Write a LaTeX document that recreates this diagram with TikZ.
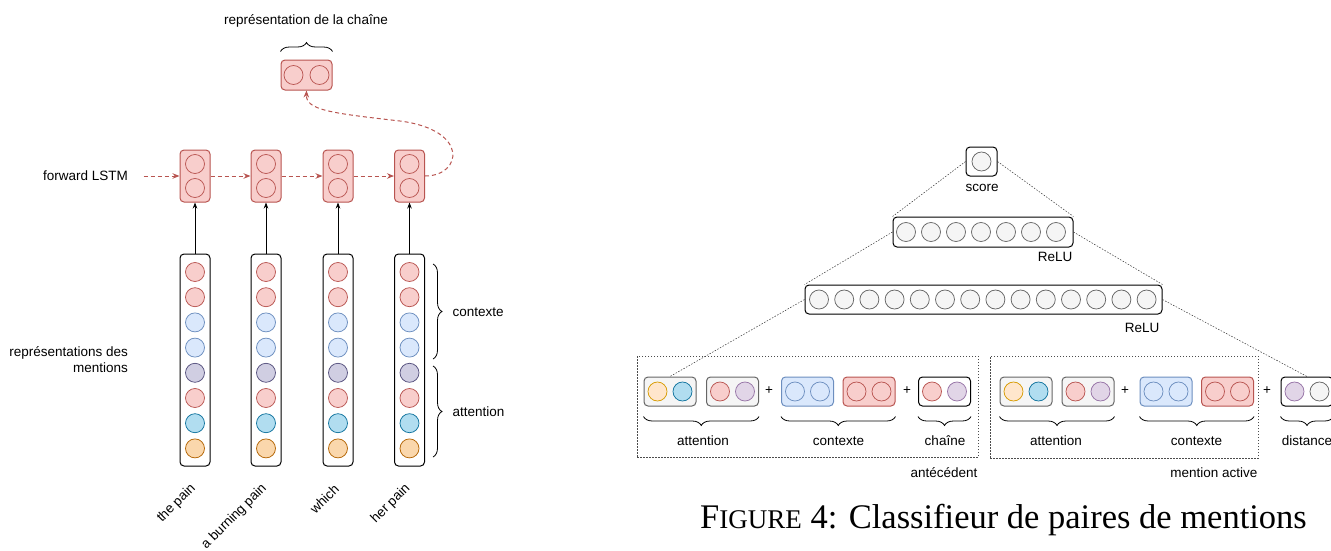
\documentclass[tikz,border=0pt]{standalone}
\usepackage{fontspec}
\setmainfont{Liberation Sans}
\newfontfamily\capfont{Liberation Serif}
\usetikzlibrary{positioning,arrows.meta,decorations.pathreplacing}

\definecolor{redf}{HTML}{F8CECC}
\definecolor{redd}{HTML}{B85450}
\definecolor{bluef}{HTML}{DAE8FC}
\definecolor{blued}{HTML}{6C8EBF}
\definecolor{cyanf}{HTML}{B1DDF0}
\definecolor{cyand}{HTML}{10739E}
\definecolor{orangef}{HTML}{FFE6CC}
\definecolor{oranged}{HTML}{D79B00}
\definecolor{dorangef}{HTML}{FAD7AC}
\definecolor{doranged}{HTML}{B46504}
\definecolor{purplef}{HTML}{E1D5E7}
\definecolor{purpled}{HTML}{9673A6}
\definecolor{dpurplef}{HTML}{D0CEE2}
\definecolor{dpurpled}{HTML}{56517E}
\definecolor{greyf}{HTML}{F5F5F5}
\definecolor{greyd}{HTML}{666666}

\tikzset{
  unit/.style={circle, draw, line width=0.75pt, minimum size=19pt, inner sep=0pt},
  layer/.style={draw, rounded corners=4pt, line width=1pt, inner sep=0pt, fill=white},
  brace/.style={decorate, decoration={brace, amplitude=9pt}, line width=0.8pt},
  link/.style={line width=0.5pt, draw=black!80, dash pattern=on 1.5pt off 1.5pt},
  group/.style={draw=black!70, line width=0.6pt, dash pattern=on 1.5pt off 1.5pt, inner sep=0pt},
  fwd/.style={draw=redd, line width=1pt, dash pattern=on 4pt off 3pt, -{Stealth[length=7pt,width=5.5pt]}},
  feed/.style={line width=0.7pt, -{Stealth[length=6pt,width=4.5pt]}}
}

\begin{document}
\begin{tikzpicture}[x=1pt, y=-1pt, font=\fontsize{13.5}{16}\selectfont]
\useasboundingbox (0,0) rectangle (1331,550);

% --- chaine de mentions (gauche)
\node[layer, fill=redf, draw=redd, minimum width=51pt, minimum height=30pt] (chain) at (306.5,75) {};
\node[unit, fill=redf, draw=redd] (chain-l) at (293.5,75) {};
\node[unit, fill=redf, draw=redd] (chain-r) at (319.5,75) {};
\draw[brace] ([yshift=8pt]chain.north west) -- ([yshift=8pt]chain.north east);
\node (chainlbl) at (306,21) {représentation de la chaîne};

\node[anchor=east] (fwdlbl) at (131.5,176) {forward LSTM};
\node[anchor=east, align=right] (mentlbl) at (131.5,360) {représentations des\\mentions};

\foreach \x/\w [count=\i] in {195/the pain, 266/a burning pain, 338/which, 409.5/her pain} {
  \node[layer, fill=redf, draw=redd, minimum width=30pt, minimum height=52pt] (lstm\i) at (\x,176) {};
  \node[unit, fill=redf, draw=redd] (lstm\i-a) at (\x,164) {};
  \node[unit, fill=redf, draw=redd] (lstm\i-b) at (\x,188) {};
  \node[layer, minimum width=30pt, minimum height=212pt] (col\i) at (\x,360) {};
  \foreach \f/\d [count=\k] in {redf/redd, redf/redd, bluef/blued, bluef/blued,
      dpurplef/dpurpled, redf/redd, cyanf/cyand, dorangef/doranged}
    \node[unit, fill=\f, draw=\d] (col\i-\k) at (\x,{272+25.2*(\k-1)}) {};
  \draw[feed] (col\i) -- (lstm\i);
  \node[rotate=45, anchor=east] (word\i) at ({\x+1},484) {\w};
}
\draw[fwd] ([xshift=12pt]fwdlbl.east) -- (lstm1);
\foreach \i/\j in {1/2, 2/3, 3/4}
  \draw[fwd] (lstm\i) -- (lstm\j);
\draw[fwd] (lstm4.east) .. controls (462,176) and (470,130) .. (400,121)
  .. controls (330,113) and (306,110) .. (chain.south);

\draw[brace] (433,264) -- (433,359);
\draw[brace] (433,366) -- (433,457);
\node[anchor=west] (ctxlbl) at (449,312) {contexte};
\node[anchor=west] (attlbl) at (449,412) {attention};

% --- classifieur (droite)
\node[layer, minimum width=31pt, minimum height=29pt] (score) at (981.5,161.5) {};
\node[unit, fill=greyf, draw=greyd] (score-1) at (score) {};
\node (scorelbl) at (982,188) {score};

\node[layer, minimum width=180pt, minimum height=30pt] (relu1) at (983,232) {};
\foreach \k in {1,...,7}
  \node[unit, fill=greyf, draw=greyd] (relu1-\k) at ({906+25*(\k-1)},232) {};
\node[anchor=east] (relu1lbl) at (1076,257) {ReLU};

\node[layer, minimum width=357pt, minimum height=29pt] (relu2) at (983.5,299.5) {};
\foreach \k in {1,...,14}
  \node[unit, fill=greyf, draw=greyd] (relu2-\k) at ({819+25.2*(\k-1)},299.5) {};
\node[anchor=east] (relu2lbl) at (1163,328) {ReLU};

\node[group, minimum width=341pt, minimum height=101pt] (ante) at (807.5,406.5) {};
\node[group, minimum width=268pt, minimum height=102pt] (active) at (1124,407) {};
\node[anchor=east] (antelbl) at (981,473) {antécédent};
\node[anchor=east] (activelbl) at (1261,473) {mention active};

\foreach \n/\x/\bfil/\bdrw/\lfil/\ldrw/\rfil/\rdrw in {
    aa1/670/greyf/greyd/orangef/oranged/cyanf/cyand,
    aa2/732.5/greyf/greyd/redf/redd/purplef/purpled,
    ac1/807.5/bluef/blued/bluef/blued/bluef/blued,
    ac2/869/redf/redd/redf/redd/redf/redd,
    ach/944.5/white/black/redf/redd/purplef/purpled,
    ma1/1026/greyf/greyd/orangef/oranged/cyanf/cyand,
    ma2/1088/greyf/greyd/redf/redd/purplef/purpled,
    mc1/1166/bluef/blued/bluef/blued/bluef/blued,
    mc2/1227.5/redf/redd/redf/redd/redf/redd,
    md/1307/white/black/purplef/purpled/greyf/greyd} {
  \node[layer, fill=\bfil, draw=\bdrw, minimum width=52pt, minimum height=29pt] (\n) at (\x,391.5) {};
  \node[unit, fill=\lfil, draw=\ldrw] (\n-l) at ({\x-12.5},391.5) {};
  \node[unit, fill=\rfil, draw=\rdrw] (\n-r) at ({\x+12.5},391.5) {};
}
\node (plus1) at (769,391) {+};
\node (plus2) at (907,391) {+};
\node (plus3) at (1125,391) {+};
\node (plus4) at (1267,391) {+};

\draw[brace] ([yshift=-10pt]aa2.south east) -- ([yshift=-10pt]aa1.south west);
\draw[brace] ([yshift=-10pt]ac2.south east) -- ([yshift=-10pt]ac1.south west);
\draw[brace] ([yshift=-10pt]ach.south east) -- ([yshift=-10pt]ach.south west);
\draw[brace] ([yshift=-10pt]ma2.south east) -- ([yshift=-10pt]ma1.south west);
\draw[brace] ([yshift=-10pt]mc2.south east) -- ([yshift=-10pt]mc1.south west);
\draw[brace] ([yshift=-10pt]md.south east) -- ([yshift=-10pt]md.south west);
\node (aattlbl) at (703,441) {attention};
\node (actxlbl) at (838.5,441) {contexte};
\node (achlbl) at (945,441) {chaîne};
\node (mattlbl) at (1056,441) {attention};
\node (mctxlbl) at (1196.5,441) {contexte};
\node (mdistlbl) at (1307,441) {distance};

\draw[link] (score.west) -- (relu1.north west);
\draw[link] (score.east) -- (relu1.north east);
\draw[link] (relu1.west) -- (relu2.north west);
\draw[link] (relu1.east) -- (relu2.north east);
\draw[link] (relu2.west) -- (aa1.north);
\draw[link] (relu2.east) -- (md.north);

\node[anchor=base west, inner sep=0pt, font=\capfont\fontsize{34.5}{40}\selectfont] (caption) at (700,528)
  {F{\fontsize{27}{30}\selectfont IGURE} 4: Classifieur de paires de mentions};
\end{tikzpicture}
\end{document}
